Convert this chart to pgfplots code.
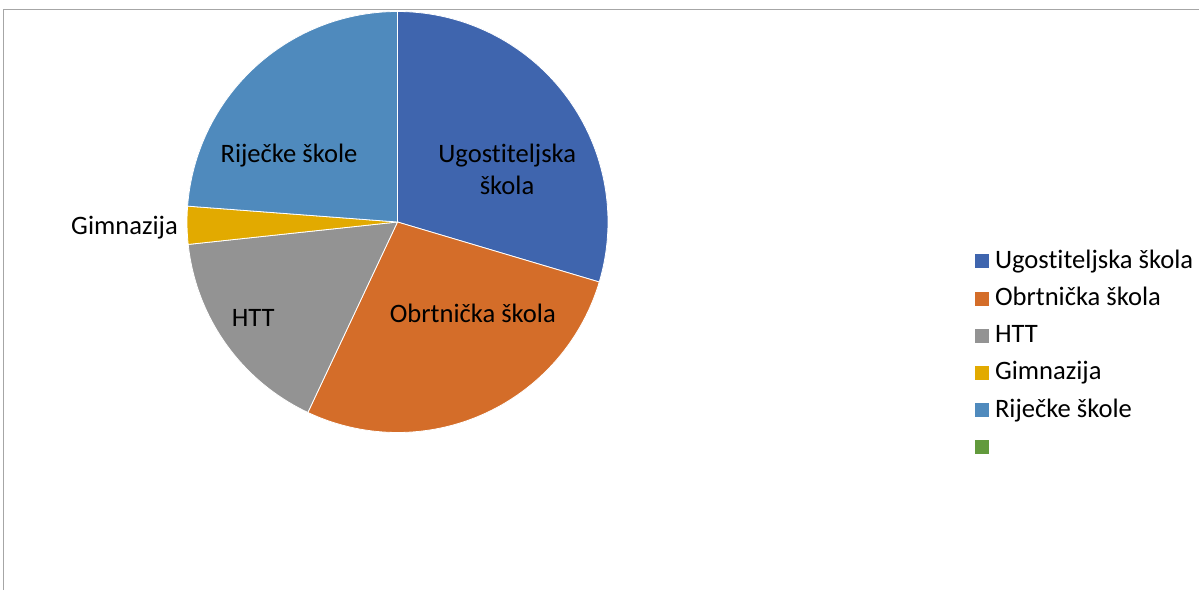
\documentclass[border=0pt]{standalone}
\usepackage{pgfplots}
\pgfplotsset{compat=1.18}
\usepackage{pgfplotstable}
\usepackage{fontspec}
\setmainfont[Ligatures={NoCommon}]{Carlito}

\definecolor{cU}{HTML}{3F65AE}
\definecolor{cO}{HTML}{D46D29}
\definecolor{cH}{HTML}{939393}
\definecolor{cG}{HTML}{E2AA00}
\definecolor{cR}{HTML}{4F8ABD}
\definecolor{cZ}{HTML}{629A3C}
\definecolor{frameg}{HTML}{A6A6A6}

% share of each school, in percent
\pgfplotstableread{
school value
Ugostiteljska 29.6
Obrtnicka 27.4
HTT 16.3
Gimnazija 2.9
Rijecke 23.8
Empty 0
}\piedata

\pgfplotstablegetelem{0}{value}\of\piedata \pgfmathsetmacro\vA{\pgfplotsretval}
\pgfplotstablegetelem{1}{value}\of\piedata \pgfmathsetmacro\vB{\pgfplotsretval}
\pgfplotstablegetelem{2}{value}\of\piedata \pgfmathsetmacro\vC{\pgfplotsretval}
\pgfplotstablegetelem{3}{value}\of\piedata \pgfmathsetmacro\vD{\pgfplotsretval}
\pgfplotstablegetelem{4}{value}\of\piedata \pgfmathsetmacro\vE{\pgfplotsretval}

\pgfmathsetmacro\aA{90}
\pgfmathsetmacro\aB{\aA-3.6*\vA}
\pgfmathsetmacro\aC{\aB-3.6*\vB}
\pgfmathsetmacro\aD{\aC-3.6*\vC}
\pgfmathsetmacro\aE{\aD-3.6*\vD}
\pgfmathsetmacro\aF{\aE-3.6*\vE}

\def\cx{397.5}
\def\cy{368}
\def\rr{210.5}

\newcommand\slice[3]{%
  \addplot[fill=#1, draw=white, line width=0.4pt, samples=100,
    domain=#3:#2, variable=\t]
    ({\cx+\rr*cos(\t)},{\cy+\rr*sin(\t)}) -- (\cx,\cy) -- cycle;}

\begin{document}
\begin{tikzpicture}
\begin{axis}[
  at={(0pt,0pt)}, anchor=south west,
  width=599.5pt, height=295pt, scale only axis,
  xmin=0, xmax=1199, ymin=0, ymax=590,
  hide axis, clip=false,
  font=\fontsize{13.3}{16}\selectfont,
  legend image code/.code={\fill[#1, draw=none] (0pt,0pt) rectangle (7pt,7pt);},
  legend style={at={(axis cs:975,338.5)}, anchor=north west,
    draw=none, fill=none, inner sep=0pt, outer sep=0pt,
    font=\fontsize{13.3}{16}\selectfont,
    nodes={inner sep=0pt, outer sep=0pt, text height=8.4pt, text depth=0pt},
    cells={anchor=base west},
    row sep=10.2pt, column sep=3pt},
]
\slice{cU}{\aA}{\aB}
\addlegendentry{Ugostiteljska škola}
\slice{cO}{\aB}{\aC}
\addlegendentry{Obrtnička škola}
\slice{cH}{\aC}{\aD}
\addlegendentry{HTT}
\slice{cG}{\aD}{\aE}
\addlegendentry{Gimnazija}
\slice{cR}{\aE}{\aF}
\addlegendentry{Riječke škole}
\addlegendimage{fill=cZ}
\addlegendentry{}

\node[anchor=base] at (axis cs:507.2,427.3) {Ugostiteljska};
\node[anchor=base] at (axis cs:507,395) {škola};
\node[anchor=base] at (axis cs:472.8,267.3) {Obrtnička škola};
\node[anchor=base] at (axis cs:253.3,263.3) {HTT};
\node[anchor=base] at (axis cs:124.5,355) {Gimnazija};
\node[anchor=base] at (axis cs:289,427.3) {Riječke škole};
\end{axis}
\draw[frameg, line width=0.65pt] (1.85pt,0pt) |- (599.5pt,290.25pt);
\pgfresetboundingbox
\useasboundingbox (0pt,0pt) rectangle (599.5pt,295pt);
\end{tikzpicture}
\end{document}
